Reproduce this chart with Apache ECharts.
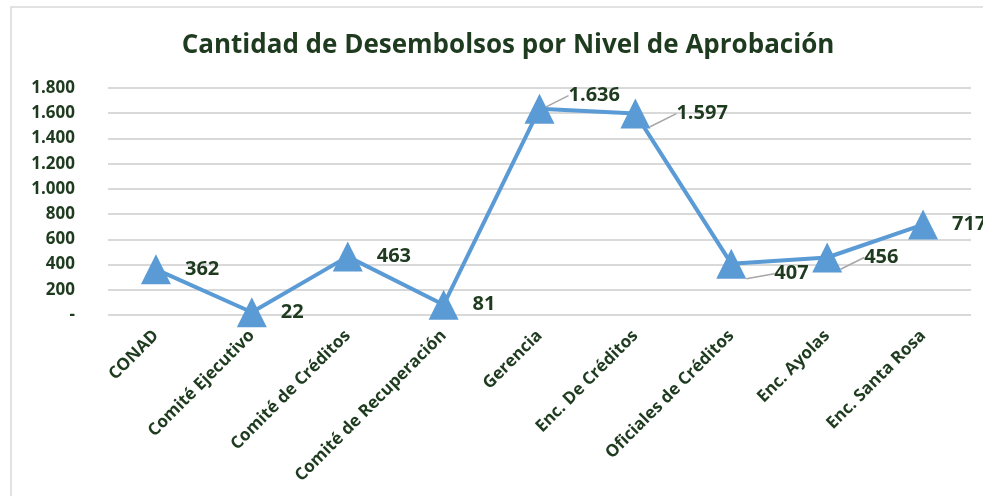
<!DOCTYPE html>
<html>
<head>
<meta charset="utf-8">
<script src="https://cdn.jsdelivr.net/npm/echarts@6/dist/echarts.min.js"></script>
<style>
	html, body { margin: 0; padding: 0; background: #fff; }
	#chart { width: 983px; height: 496px; }
</style>
</head>
<body>
<div id="chart"></div>
<script>
// niveles de aprobación
const categories = [
	"CONAD",
	"Comité Ejecutivo",
	"Comité de Créditos",
	"Comité de Recuperación",
	"Gerencia",
	"Enc. De Créditos",
	"Oficiales de Créditos",
	"Enc. Ayolas",
	"Enc. Santa Rosa",
];
const desembolsos = [362, 22, 463, 81, 1636, 1597, 407, 456, 717];
const yTicks = [0, 200, 400, 600, 800, 1000, 1200, 1400, 1600, 1800];

const textColor = "#1f3b1f";
const font = "'Open Sans', sans-serif";

// desplazamiento de algunas etiquetas (con línea guía)
const labelShift = { 4: [0, -13], 5: [12, 0], 6: [14, 10], 7: [8, 0] };

const fmt = v => (v === 0 ? "-" : v.toString().replace(/\B(?=(\d{3})+(?!\d))/g, "."));

const seriesData = desembolsos.map((v, i) => ({
	value: v,
	labelLine: { show: !!labelShift[i] },
}));

const option = {
	animation: false,
	title: {
		text: "Cantidad de Desembolsos por Nivel de Aprobación",
		left: 503,
		top: 28,
		textAlign: "center",
		textStyle: { color: textColor, fontFamily: font, fontWeight: "bold", fontSize: 26 },
	},
	graphic: [
		{
			type: "rect",
			shape: { x: 11, y: 7, width: 990, height: 500 },
			style: { fill: "none", stroke: "#d9d9d9", lineWidth: 1.5 },
			silent: true,
		},
	],
	grid: { left: 108, right: 12, top: 88, bottom: 181 },
	xAxis: {
		type: "category",
		data: categories,
		boundaryGap: true,
		axisLine: { show: false },
		axisTick: { show: false },
		axisLabel: {
			rotate: 45,
			margin: 18,
			color: textColor,
			fontFamily: font,
			fontWeight: "bold",
			fontSize: 17,
			interval: 0,
		},
	},
	yAxis: {
		type: "value",
		min: yTicks[0],
		max: yTicks[yTicks.length - 1],
		interval: 200,
		axisLine: { show: false },
		axisTick: { show: false },
		splitLine: { lineStyle: { color: "#d9d9d9", width: 2 } },
		axisLabel: {
			margin: 33,
			color: textColor,
			fontFamily: font,
			fontWeight: "bold",
			fontSize: 17,
			formatter: fmt,
		},
	},
	series: [
		{
			type: "line",
			data: seriesData,
			symbol: "triangle",
			symbolSize: 30,
			itemStyle: { color: "#5b9bd5" },
			lineStyle: { color: "#5b9bd5", width: 4 },
			label: {
				show: true,
				position: "right",
				distance: 14,
				color: textColor,
				fontFamily: font,
				fontWeight: "bold",
				fontSize: 20,
				formatter: p => fmt(p.value),
			},
			labelLine: { lineStyle: { color: "#a6a6a6", width: 1.5 } },
			labelLayout: p => {
				const s = labelShift[p.dataIndex];
				return s ? { dx: s[0], dy: s[1] } : {};
			},
		},
	],
};

const myChart = echarts.init(document.getElementById("chart"));
myChart.setOption(option);
</script>
</body>
</html>
